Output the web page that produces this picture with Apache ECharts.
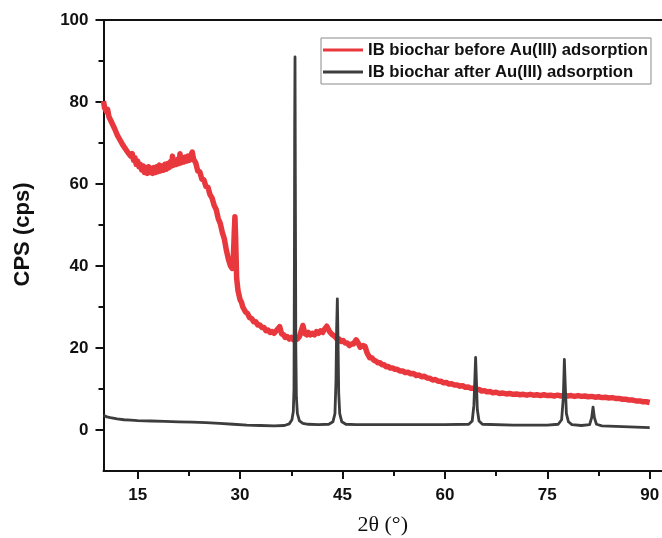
<!DOCTYPE html>
<html>
<head>
<meta charset="utf-8">
<script src="https://cdn.jsdelivr.net/npm/echarts@6/dist/echarts.min.js"></script>
<style>
  html, body { margin: 0; padding: 0; background: #ffffff; }
  #chart { width: 662px; height: 538px; }
</style>
</head>
<body>
<div id="chart"></div>
<script>
// XRD patterns of IB biochar: [2θ (°), intensity (cps)]
const beforeAdsorption = [
  [10.0, 80.2], [10.15, 78.6], [10.3, 79.0], [10.45, 77.6], [10.6, 78.2], [10.8, 76.4],
  [11.0, 76.8], [11.2, 75.0], [11.4, 75.2], [11.6, 73.6], [11.8, 73.8], [12.0, 72.0],
  [12.2, 72.4], [12.4, 70.8], [12.6, 71.2], [12.8, 69.6], [13.0, 70.0], [13.2, 68.6],
  [13.4, 69.0], [13.6, 67.6], [13.8, 68.0], [14.0, 66.8], [14.2, 67.4], [14.4, 65.8],
  [14.6, 66.4], [14.8, 64.8], [15.0, 65.6], [15.2, 64.2], [15.4, 64.8], [15.6, 63.4],
  [15.8, 64.4], [16.0, 62.8], [16.2, 64.0], [16.4, 62.6], [16.6, 64.2], [16.8, 62.8],
  [17.0, 63.8], [17.2, 62.6], [17.4, 64.0], [17.6, 62.8], [17.8, 64.2], [18.0, 63.0],
  [18.2, 64.6], [18.4, 63.2], [18.6, 64.4], [18.8, 63.4], [19.0, 64.8], [19.2, 63.6],
  [19.4, 65.0], [19.6, 64.0], [19.8, 65.4], [20.0, 64.4], [20.1, 66.8], [20.3, 64.6],
  [20.5, 65.8], [20.7, 64.8], [20.9, 66.0], [21.1, 65.0], [21.2, 67.4], [21.4, 65.2],
  [21.6, 66.4], [21.8, 65.4], [22.0, 66.6], [22.2, 65.6], [22.4, 66.8], [22.6, 65.8],
  [22.8, 67.0], [23.0, 67.8], [23.2, 66.0], [23.5, 65.2], [23.8, 63.2], [24.1, 63.0],
  [24.4, 61.2], [24.7, 61.0], [25.0, 59.4], [25.3, 59.2], [25.6, 57.4], [25.9, 56.6],
  [26.2, 54.8], [26.5, 53.8], [26.8, 51.6], [27.1, 50.4], [27.4, 48.2], [27.7, 46.6],
  [28.0, 43.8], [28.3, 41.6], [28.6, 40.0], [28.85, 39.4], [29.0, 41], [29.15, 48],
  [29.25, 52], [29.35, 47], [29.5, 37], [29.7, 34], [30.0, 31.8], [30.2, 31.2],
  [30.4, 30.0], [30.6, 29.8], [30.8, 28.8], [31.1, 28.4], [31.4, 27.4], [31.7, 27.2],
  [32.0, 26.4], [32.3, 26.4], [32.6, 25.6], [32.9, 25.6], [33.2, 25.0], [33.5, 25.0],
  [33.8, 24.2], [34.1, 24.4], [34.4, 23.8], [34.7, 24.0], [35.0, 23.6], [35.3, 24.2],
  [35.5, 24.0], [35.8, 25.2], [36.1, 23.4], [36.4, 23.2], [36.6, 22.6], [36.9, 22.8],
  [37.2, 22.2], [37.5, 22.6], [37.8, 22.0], [38.1, 22.6], [38.4, 22.2], [38.7, 22.8],
  [38.9, 23], [39.2, 25.5], [39.5, 23.5], [39.8, 23.2], [40.0, 23.8], [40.3, 23.2],
  [40.6, 23.6], [40.9, 23.2], [41.2, 24.0], [41.5, 23.6], [41.8, 24.2], [42.1, 23.8],
  [42.3, 24.4], [42.7, 25.3], [43.1, 24], [43.4, 23.4], [43.6, 23], [43.9, 22.8],
  [44.2, 22.2], [44.5, 22.2], [44.8, 21.6], [45.1, 21.8], [45.4, 21.2], [45.7, 21.2],
  [46.0, 20.6], [46.3, 21.0], [46.6, 21], [47.0, 22], [47.3, 21.2], [47.6, 20.2],
  [48.0, 20.6], [48.3, 20.4], [48.6, 18.8], [49.0, 17.6], [49.3, 17.6], [49.6, 17],
  [49.9, 16.8], [50.2, 16.4], [50.5, 16.4], [50.8, 15.9], [51.1, 15.9], [51.4, 15.4],
  [51.7, 15.5], [52.0, 15.1], [52.4, 15.1], [52.7, 14.8], [53.0, 14.8], [53.4, 14.4],
  [53.8, 14.4], [54.2, 14.0], [54.6, 14.1], [55.0, 13.7], [55.4, 13.8], [55.8, 13.3],
  [56.2, 13.4], [56.6, 13.0], [57.0, 13.1], [57.4, 12.7], [57.8, 12.6], [58.2, 12.2],
  [58.6, 12.3], [59.0, 11.9], [59.4, 11.9], [59.8, 11.5], [60.2, 11.6], [60.6, 11.2],
  [61.0, 11.3], [61.4, 11.0], [61.8, 11.0], [62.2, 10.7], [62.6, 10.8], [63.0, 10.4],
  [63.4, 10.5], [63.8, 10.2], [64.2, 10.2], [64.6, 9.9], [65.0, 9.9], [65.4, 9.5],
  [65.8, 9.6], [66.2, 9.3], [66.6, 9.4], [67.0, 9.1], [67.5, 9.2], [68.0, 8.9],
  [68.5, 9.0], [69.0, 8.8], [69.5, 8.9], [70.0, 8.7], [70.5, 8.8], [71.0, 8.6],
  [71.5, 8.7], [72.0, 8.5], [72.5, 8.7], [73.0, 8.5], [73.5, 8.6], [74.0, 8.4],
  [74.5, 8.6], [75.0, 8.4], [75.5, 8.5], [76.0, 8.3], [76.5, 8.5], [77.0, 8.3],
  [77.5, 8.5], [78.0, 8.3], [78.5, 8.4], [79.0, 8.2], [79.5, 8.4], [80.0, 8.2],
  [80.5, 8.3], [81.0, 8.1], [81.5, 8.2], [82.0, 8.0], [82.5, 8.1], [83.0, 7.9],
  [83.5, 8.0], [84.0, 7.8], [84.5, 7.9], [85.0, 7.7], [85.5, 7.7], [86.0, 7.5],
  [86.5, 7.5], [87.0, 7.3], [87.5, 7.3], [88.0, 7.1], [88.5, 7.1], [89.0, 6.9],
  [89.5, 6.9], [90.0, 6.7]
];

const afterAdsorption = [
  [10.0, 3.6], [10.5, 3.2], [11.0, 3.0], [12.0, 2.7], [13.0, 2.5], [14.0, 2.4],
  [15.0, 2.3], [17.0, 2.2], [19.0, 2.1], [21.0, 2.0], [23.0, 1.9], [25.0, 1.8],
  [27.0, 1.6], [29.0, 1.4], [31.0, 1.2], [33.0, 1.1], [35.0, 1.0], [36.5, 1.1],
  [37.2, 1.5], [37.6, 2.5], [37.8, 4.5], [37.9, 10], [37.97, 47], [38.0, 74],
  [38.05, 91], [38.1, 60], [38.17, 20], [38.25, 8], [38.4, 4], [38.7, 2.2],
  [39.2, 1.6], [40.0, 1.4], [41.5, 1.3], [43.0, 1.4], [43.6, 2.0], [43.9, 4],
  [44.05, 12], [44.15, 25], [44.25, 32], [44.35, 22], [44.45, 9], [44.6, 4],
  [44.9, 2], [45.5, 1.4], [47.0, 1.3], [50.0, 1.3], [55.0, 1.3], [60.0, 1.3],
  [63.5, 1.4], [64.0, 2.2], [64.25, 6], [64.4, 13], [64.5, 17.7], [64.6, 13],
  [64.75, 5], [65.0, 2.2], [65.5, 1.4], [70.0, 1.2], [75.0, 1.2], [76.6, 1.4],
  [77.1, 2.5], [77.35, 8], [77.5, 17.2], [77.65, 10], [77.8, 4], [78.1, 2],
  [78.6, 1.3], [80.0, 1.1], [81.2, 1.3], [81.5, 3], [81.7, 5.6], [81.9, 3],
  [82.2, 1.4], [83.0, 1.0], [86.0, 0.8], [90.0, 0.6]
];

const seriesNames = ['IB biochar before Au(III) adsorption', 'IB biochar after Au(III) adsorption'];
const xMajorTicks = [15, 30, 45, 60, 75, 90];
const xMinorTicks = [22.5, 37.5, 52.5, 67.5, 82.5];
const yMajorTicks = [0, 20, 40, 60, 80, 100];
const yMinorTicks = [10, 30, 50, 70, 90];

const X_MIN = 10, X_MAX = 91.8, Y_MIN = -10, Y_MAX = 100;
const sans = 'Liberation Sans, Arial, sans-serif';
const axisColor = '#111';

const chart = echarts.init(document.getElementById('chart'), null, { renderer: 'canvas' });

chart.setOption({
  backgroundColor: '#ffffff',
  animation: false,
  grid: { left: 103.5, right: 0, top: 20, bottom: 67, containLabel: false, outerBoundsMode: 'none' },
  legend: {
    orient: 'vertical',
    left: 321,
    top: 38,
    padding: [3, 3, 3, 2],
    itemGap: 4,
    itemWidth: 40,
    itemHeight: 3,
    icon: 'rect',
    borderColor: '#8a8a8a',
    borderWidth: 1,
    backgroundColor: '#ffffff',
    textStyle: { fontFamily: sans, fontWeight: 'bold', fontSize: 16.7, lineHeight: 18, color: '#111' },
    data: seriesNames
  },
  xAxis: [
    {
      type: 'value', min: X_MIN, max: X_MAX, position: 'bottom',
      name: '2θ (°)', nameLocation: 'middle', nameGap: 43,
      nameTextStyle: { fontFamily: 'Liberation Serif, Times New Roman, serif', fontSize: 22, color: '#111' },
      axisLine: { show: true, onZero: false, lineStyle: { color: axisColor, width: 2 } },
      axisTick: { show: true, inside: false, length: 8, customValues: xMajorTicks, lineStyle: { color: axisColor, width: 2 } },
      axisLabel: { customValues: xMajorTicks, margin: 16, fontFamily: sans, fontWeight: 'bold', fontSize: 17, color: '#111' },
      splitLine: { show: false }
    },
    {
      type: 'value', min: X_MIN, max: X_MAX, position: 'bottom',
      axisLine: { show: false, onZero: false },
      axisTick: { show: true, inside: false, length: 5, customValues: xMinorTicks, lineStyle: { color: axisColor, width: 2 } },
      axisLabel: { show: false },
      splitLine: { show: false }
    },
    {
      type: 'value', min: X_MIN, max: X_MAX, position: 'top',
      axisLine: { show: true, onZero: false, lineStyle: { color: axisColor, width: 2 } },
      axisTick: { show: false },
      axisLabel: { show: false },
      splitLine: { show: false }
    }
  ],
  yAxis: [
    {
      type: 'value', min: Y_MIN, max: Y_MAX, position: 'left',
      name: 'CPS (cps)', nameLocation: 'middle', nameGap: 70, nameRotate: 90,
      nameTextStyle: { fontFamily: sans, fontWeight: 'bold', fontSize: 22, color: '#111', padding: [0, 0, 0, 22] },
      axisLine: { show: true, onZero: false, lineStyle: { color: axisColor, width: 2 } },
      axisTick: { show: true, inside: false, length: 8, customValues: yMajorTicks, lineStyle: { color: axisColor, width: 2 } },
      axisLabel: { customValues: yMajorTicks, margin: 15, fontFamily: sans, fontWeight: 'bold', fontSize: 17, color: '#111' },
      splitLine: { show: false }
    },
    {
      type: 'value', min: Y_MIN, max: Y_MAX, position: 'left',
      axisLine: { show: false, onZero: false },
      axisTick: { show: true, inside: false, length: 5, customValues: yMinorTicks, lineStyle: { color: axisColor, width: 2 } },
      axisLabel: { show: false },
      splitLine: { show: false }
    }
  ],
  series: [
    {
      name: seriesNames[0], type: 'line', xAxisIndex: 0, yAxisIndex: 0,
      data: beforeAdsorption, showSymbol: false, smooth: false, z: 2,
      color: '#e8383d',
      lineStyle: { color: '#e8383d', width: 5.5, join: 'round' }
    },
    {
      name: seriesNames[1], type: 'line', xAxisIndex: 0, yAxisIndex: 0,
      data: afterAdsorption, showSymbol: false, smooth: false, z: 3,
      color: '#3d3d3d',
      lineStyle: { color: '#3d3d3d', width: 2.8, join: 'round' }
    }
  ]
});
</script>
</body>
</html>
